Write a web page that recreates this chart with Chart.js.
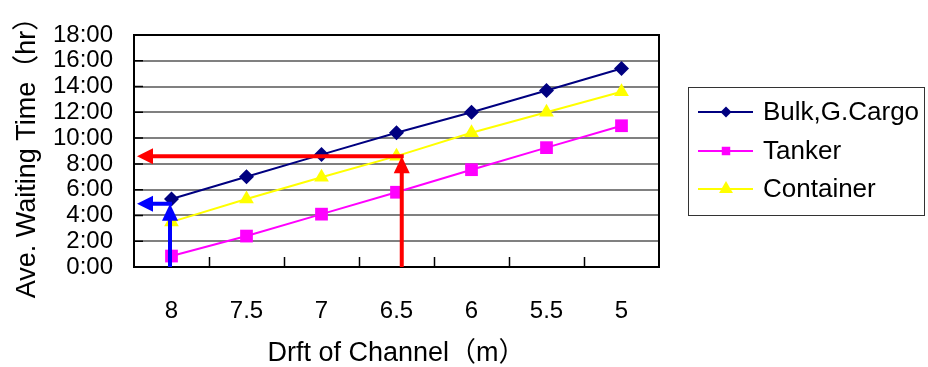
<!DOCTYPE html>
<html lang="en">
<head>
<meta charset="UTF-8">
<title>Ave. Waiting Time</title>
<script src="https://cdn.jsdelivr.net/npm/chart.js@4"></script>
<style>
  body { margin: 0; background: #fff; }
</style>
</head>
<body>
<canvas id="Chart" width="928" height="367"></canvas>
<script>
const drafts = ['8', '7.5', '7', '6.5', '6', '5.5', '5'];
const bulk = [5.28, 7.0, 8.72, 10.42, 12.0, 13.7, 15.4];
const tanker = [0.85, 2.4, 4.1, 5.8, 7.55, 9.26, 10.96];
const container = [3.5, 5.28, 6.96, 8.6, 10.42, 12.0, 13.6];
const seriesNames = ['Bulk,G.Cargo', 'Tanker', 'Container'];

const arrowColors = ['#FF0000', '#0000FF'];
const arrowX = [3.07, -0.02];
const arrowHour = [8.6, 4.9];
const arrowEndX = -0.46;

Chart.defaults.font.family = "'Liberation Sans', 'Noto Sans CJK JP', sans-serif";
Chart.defaults.color = '#000';

function arrowHead(ctx, tx, ty, dir) {
  // dir: 'up' or 'left'
  ctx.beginPath();
  if (dir === 'up') {
    ctx.moveTo(tx, ty);
    ctx.lineTo(tx - 8, ty + 17);
    ctx.lineTo(tx + 8, ty + 17);
  } else {
    ctx.moveTo(tx, ty);
    ctx.lineTo(tx + 16, ty - 8);
    ctx.lineTo(tx + 16, ty + 8);
  }
  ctx.closePath();
  ctx.fill();
}

const extras = {
  id: 'extras',
  beforeDatasetsDraw(chart) {
    const ctx = chart.ctx, a = chart.chartArea, xs = chart.scales.x, ys = chart.scales.y;
    ctx.save();
    ctx.strokeStyle = '#000';
    ctx.lineWidth = 1.5;
    // inside tick marks
    ctx.beginPath();
    for (let i = 1; i < drafts.length; i++) {
      const px = Math.round(xs.getPixelForValue(i - 0.5)) + 0.5;
      ctx.moveTo(px, a.bottom);
      ctx.lineTo(px, a.bottom - 10);
    }
    ys.ticks.forEach(t => {
      const py = ys.getPixelForValue(t.value);
      ctx.moveTo(a.left, py);
      ctx.lineTo(a.left + 9, py);
    });
    ctx.stroke();
    ctx.lineWidth = 2;
    ctx.strokeRect(a.left, a.top, a.right - a.left, a.bottom - a.top);
    ctx.restore();
  },
  afterDatasetsDraw(chart) {
    const ctx = chart.ctx, a = chart.chartArea, xs = chart.scales.x, ys = chart.scales.y;
    ctx.save();
    ctx.lineWidth = 4;
    for (let i = 0; i < arrowColors.length; i++) {
      const px = xs.getPixelForValue(arrowX[i]);
      const py = ys.getPixelForValue(arrowHour[i]);
      const ex = xs.getPixelForValue(arrowEndX);
      ctx.strokeStyle = arrowColors[i];
      ctx.fillStyle = arrowColors[i];
      ctx.beginPath();
      ctx.moveTo(px, a.bottom);
      ctx.lineTo(px, py + 14);
      ctx.moveTo(px + 2, py);
      ctx.lineTo(ex + 12, py);
      ctx.stroke();
      arrowHead(ctx, px, py, 'up');
      arrowHead(ctx, ex, py, 'left');
    }
    ctx.restore();
  },
  afterDraw(chart) {
    const ctx = chart.ctx;
    ctx.save();
    ctx.strokeStyle = '#333';
    ctx.lineWidth = 1;
    ctx.strokeRect(688.5, 87.5, 236, 128);
    const rowY = [112, 151, 189];
    const legendRadius = [5.5, 6, 8];
    chart.data.datasets.forEach((ds, i) => {
      const y = rowY[i];
      ctx.strokeStyle = ds.borderColor;
      ctx.fillStyle = ds.backgroundColor;
      ctx.lineWidth = 2;
      ctx.beginPath();
      ctx.moveTo(698, y);
      ctx.lineTo(753, y);
      ctx.stroke();
      Chart.helpers.drawPoint(ctx, {pointStyle: ds.pointStyle, radius: legendRadius[i], rotation: 0, borderWidth: 0}, 726, y);
      ctx.fillStyle = '#000';
      ctx.font = "26px 'Liberation Sans', sans-serif";
      ctx.textBaseline = 'middle';
      ctx.fillText(ds.label, 763, y + 1);
    });
    ctx.restore();
  }
};

new Chart('Chart', {
  type: 'line',
  data: {
    labels: drafts,
    datasets: [
      {label: seriesNames[0], data: bulk, borderColor: '#000080', backgroundColor: '#000080',
       pointStyle: 'rectRot', pointRadius: 7.5, borderWidth: 2, pointBorderWidth: 0},
      {label: seriesNames[1], data: tanker, borderColor: '#FF00FF', backgroundColor: '#FF00FF',
       pointStyle: 'rect', pointRadius: 9, borderWidth: 2, pointBorderWidth: 0},
      {label: seriesNames[2], data: container, borderColor: '#FFFF00', backgroundColor: '#FFFF00',
       pointStyle: 'triangle', pointRadius: 8.5, borderWidth: 2, pointBorderWidth: 0}
    ]
  },
  options: {
    responsive: false,
    animation: false,
    layout: {padding: {left: 0, top: 35, right: 269, bottom: 0}},
    plugins: {
      legend: {display: false},
      tooltip: {enabled: false}
    },
    scales: {
      x: {
        offset: true,
        grid: {display: false},
        border: {display: false},
        ticks: {font: {size: 24}, padding: 22, maxRotation: 0, autoSkip: false},
        title: {display: true, text: 'Drft of Channel（m）', font: {size: 27, lineHeight: 1}, padding: {top: 0, bottom: 0}},
        afterFit: s => { s.height = 100; }
      },
      y: {
        min: 0,
        max: 18,
        grid: {color: '#808080', lineWidth: 2, drawTicks: false},
        border: {display: false},
        ticks: {stepSize: 2, font: {size: 24, lineHeight: 1}, padding: 21, autoSkip: false, callback: v => v + ':00'},
        title: {display: true, text: 'Ave. Waiting Time（hr）', font: {size: 27, lineHeight: 1}, padding: {top: 14, bottom: 14}},
        afterFit: s => { s.width = 134; }
      }
    }
  },
  plugins: [extras]
});
</script>
</body>
</html>
